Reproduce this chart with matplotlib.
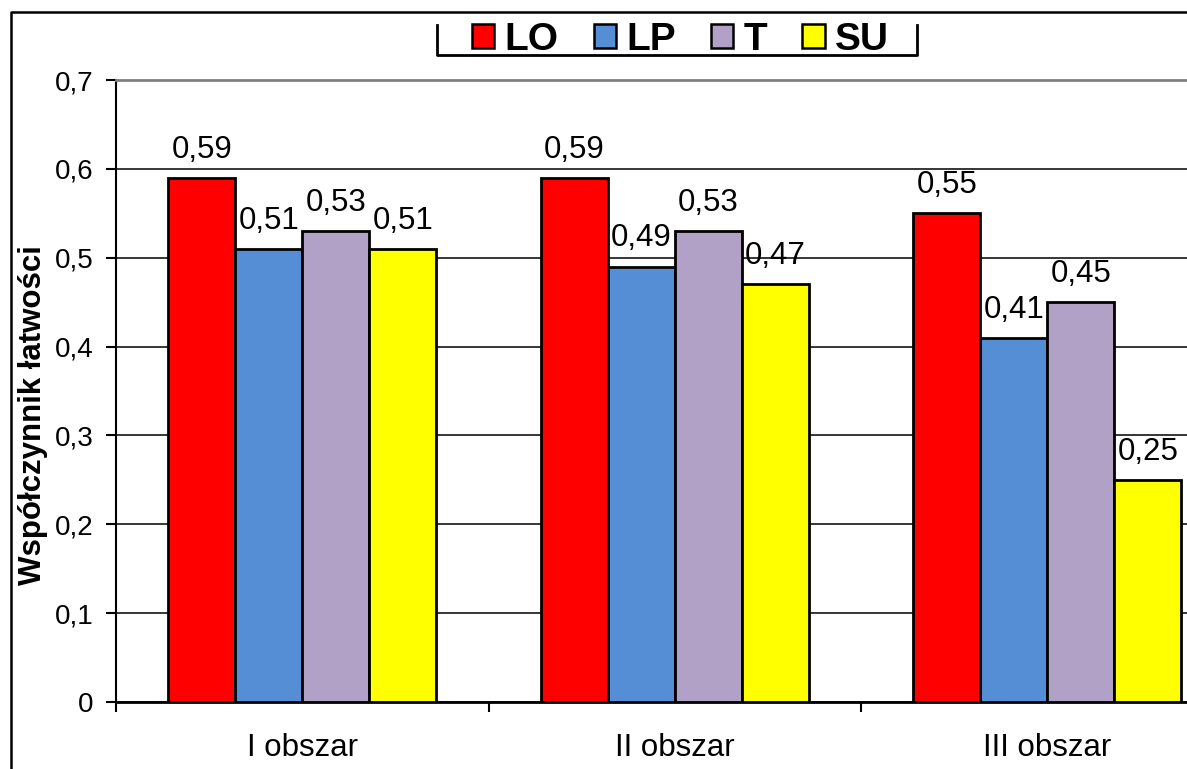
import matplotlib
matplotlib.use("Agg")
from matplotlib import pyplot as plt
from matplotlib.patches import Patch
from matplotlib.lines import Line2D
from matplotlib.ticker import FuncFormatter, FixedLocator
import numpy as np

plt.rcParams['font.family'] = ['Liberation Sans', 'DejaVu Sans']

# data
areas = ["I obszar", "II obszar", "III obszar"]
series = ["LO", "LP", "T", "SU"]
lo = [0.59, 0.59, 0.55]
lp = [0.51, 0.49, 0.41]
t = [0.53, 0.53, 0.45]
su = [0.51, 0.47, 0.25]

colors = ["#FF0000", "#558ED5", "#B2A1C7", "#FFFF00"]

fig = plt.figure(figsize=(11.87, 7.69), dpi=100)
ax = fig.add_axes([116/1187, 1 - 702/769, 1 - 116/1187, (702 - 80)/769])

x = np.arange(len(areas))
w = 0.18
for i, (vals, c) in enumerate(zip([lo, lp, t, su], colors)):
    pos = x + (i - 1.5) * w
    bars = ax.bar(pos, vals, w, color=c, edgecolor="black", linewidth=2, zorder=3)
    for b, v in zip(bars, vals):
        ax.annotate(f"{v:.2f}".replace(".", ","),
                    (b.get_x() + b.get_width()/2, v),
                    xytext=(0, 14.5), textcoords="offset points",
                    ha="center", va="baseline", fontsize=22.5)

ax.set_ylim(0, 0.7)
ax.set_xlim(-0.5, -0.5 + 1071/372.5)

ax.set_yticks(np.arange(0, 0.71, 0.1))
ax.yaxis.set_major_formatter(FuncFormatter(
    lambda v, p: "0" if abs(v) < 1e-9 else f"{v:.1f}".replace(".", ",")))
ax.tick_params(axis="y", direction="out", length=7, width=1.5, pad=9, labelsize=20)

ax.xaxis.set_major_locator(FixedLocator([-0.5, 0.5, 1.5]))
ax.xaxis.set_major_formatter(FuncFormatter(lambda v, p: ""))
ax.xaxis.set_minor_locator(FixedLocator(x))
ax.set_xticklabels(areas, minor=True)
ax.tick_params(axis="x", which="major", direction="out", length=7, width=1.5)
ax.tick_params(axis="x", which="minor", length=0, pad=22, labelsize=22.5)

ax.yaxis.grid(True, color="black", linewidth=1.1)
ax.set_axisbelow(True)
ax.spines["right"].set_visible(False)
ax.spines["top"].set_color("#808080")
ax.spines["top"].set_linewidth(2)
ax.spines["left"].set_linewidth(1.5)
ax.spines["bottom"].set_linewidth(2)

fig.text(33/1187, 1 - 415/769, "Współczynnik łatwości", rotation=90,
         ha="center", va="center", fontsize=22.5, fontweight="bold")

# legend
handles = [Patch(facecolor=c, edgecolor="black", linewidth=1.8) for c in colors]
leg = fig.legend(handles, series, loc="center", bbox_to_anchor=(680.5/1187, 1 - 40/769),
                 ncol=4, frameon=False, prop={"size": 28, "weight": "bold"},
                 handlelength=0.57, handleheight=0.57, handletextpad=0.26,
                 columnspacing=0.91, borderpad=0)
# three-sided box round the legend
lx0, lx1, ly0, ly1 = 437/1187, 917/1187, 1 - 25/769, 1 - 55/769
fig.add_artist(Line2D([lx0, lx0, lx1, lx1], [ly0, ly1, ly1, ly0],
                      transform=fig.transFigure, color="black", linewidth=2))

# outer chart frame (cropped on right and bottom)
fig.add_artist(Line2D([11/1187, 11/1187, 1], [0, 1 - 12/769, 1 - 12/769],
                      transform=fig.transFigure, color="black", linewidth=1.8))

fig.savefig("out.png", dpi=100)
